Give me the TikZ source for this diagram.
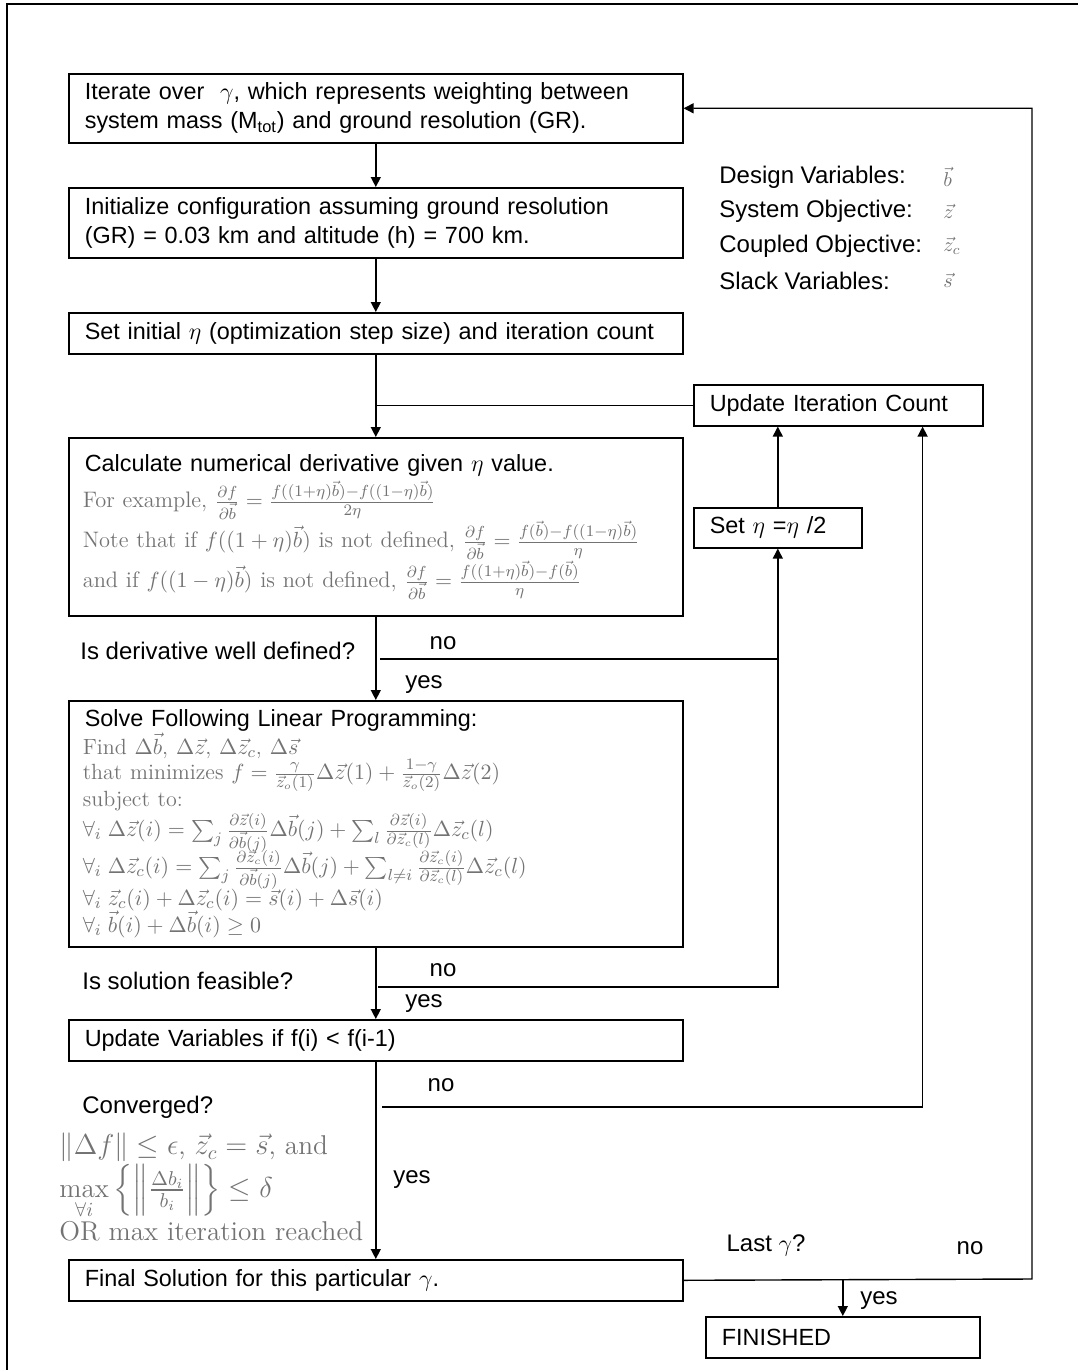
\documentclass[tikz,border=0pt]{standalone}
\usepackage{amsmath}
\usepackage{fontspec}
\setsansfont{Liberation Sans}
\usetikzlibrary{arrows.meta,positioning,calc}

\begin{document}
\begin{tikzpicture}[x=0.5pt,y=-0.5pt,
  arr/.style={-{Triangle[length=5pt,width=5pt]},line width=0.7pt},
  box/.style={draw,line width=0.8pt,anchor=north west,minimum width=307pt,text width=293pt,
    inner xsep=7pt,align=left,font=\sffamily\fontsize{11.7}{14.5}\selectfont},
  lbl/.style={font=\sffamily\fontsize{12}{13}\selectfont,inner sep=0pt},
  eqn/.style={color=black!55,font=\rmfamily}]
\useasboundingbox (0,0) rectangle (1078,1370);
\draw[line width=1pt] (7,1370) -- (7,4) -- (1078,4);

% main column
\node[box,minimum height=34.5pt] (iter) at (68,73)
  {\hspace*{1pt}Iterate over \ $\gamma$, which represents weighting between\\ \hspace*{1pt}system mass (M\textsubscript{tot}) and ground resolution (GR).};
\node[box,minimum height=35pt] (init) at (68,187)
  {\hspace*{1pt}Initialize configuration assuming ground resolution\\ \hspace*{1pt}(GR) = 0.03 km and altitude (h) = 700 km.};
\node[box,minimum height=20.5pt] (seteta) at (68,312)
  {\hspace*{1pt}Set initial $\eta$ (optimization step size) and iteration count};
\node[box,minimum height=89pt] (calc) at (68,437)
  {\hspace*{1pt}Calculate numerical derivative given $\eta$ value.\\[-1pt]
  {\rmfamily\color{black!55}\fontsize{11.2}{19}\selectfont
  For example, $\frac{\partial f}{\partial\vec b}=\frac{f((1+\eta)\vec b)-f((1-\eta)\vec b)}{2\eta}$\\
  Note that if $f((1+\eta)\vec b)$ is not defined, $\frac{\partial f}{\partial\vec b}=\frac{f(\vec b)-f((1-\eta)\vec b)}{\eta}$\\
  and if $f((1-\eta)\vec b)$ is not defined, $\frac{\partial f}{\partial\vec b}=\frac{f((1+\eta)\vec b)-f(\vec b)}{\eta}$}\\[6pt]};
\node[box,minimum height=123pt] (lp) at (68,700)
  {\lineskiplimit=-20pt\lineskip=0pt
  \hspace*{1pt}Solve Following Linear Programming:\\[1.5pt]
  {\rmfamily\color{black!55}\fontsize{11}{12.5}\selectfont
  Find $\Delta\vec b$, $\Delta\vec z$, $\Delta\vec z_c$, $\Delta\vec s$\\
  that minimizes $f=\frac{\gamma}{\vec z_o(1)}\Delta\vec z(1)+\frac{1-\gamma}{\vec z_o(2)}\Delta\vec z(2)$\\[1pt]
  subject to:\\[2.5pt]
  $\forall_i\;\Delta\vec z(i)=\sum_j\frac{\partial\vec z(i)}{\partial\vec b(j)}\Delta\vec b(j)+\sum_l\frac{\partial\vec z(i)}{\partial\vec z_c(l)}\Delta\vec z_c(l)$\\[6pt]
  $\forall_i\;\Delta\vec z_c(i)=\sum_j\frac{\partial\vec z_c(i)}{\partial\vec b(j)}\Delta\vec b(j)+\sum_{l\neq i}\frac{\partial\vec z_c(i)}{\partial\vec z_c(l)}\Delta\vec z_c(l)$\\[3.5pt]
  $\forall_i\;\vec z_c(i)+\Delta\vec z_c(i)=\vec s(i)+\Delta\vec s(i)$\\[1pt]
  $\forall_i\;\vec b(i)+\Delta\vec b(i)\geq0$\par}\vspace*{1pt}};
\node[box,minimum height=20.5pt] (upd) at (68,1019) {\hspace*{1pt}Update Variables if f(i) < f(i-1)};
\node[box,minimum height=20.5pt] (fin) at (68,1259) {\hspace*{1pt}Final Solution for this particular $\gamma$.};

% right column
\node[box,minimum width=144.5pt,text width=130.5pt,minimum height=20.5pt] (uic) at (693,384) {\hspace*{1pt}Update Iteration Count};
\node[box,minimum width=84pt,text width=70pt,minimum height=20pt] (seth) at (693,507) {\hspace*{1pt}Set $\eta$ =$\eta$ /2};
\node[box,minimum width=137pt,text width=123pt,minimum height=20.5pt] (done) at (705,1316) {\hspace*{1pt}FINISHED};

% legend
\foreach \i/\t/\v in {0/Design Variables:/\vec b,1/System Objective:/\vec z,2/Coupled Objective:/\vec z_c,3/Slack Variables:/\vec s}
  {\node[lbl,anchor=west] (lg\i) at (719,177+34.5*\i) {\t};
   \node[eqn,anchor=west,inner sep=0pt] (lv\i) at (943,177+34.5*\i) {$\v$};}

% questions and labels
\node[lbl,anchor=west] (q1) at (80,651) {Is derivative well defined?};
\node[lbl,anchor=west] (q2) at (82,981) {Is solution feasible?};
\node[lbl,anchor=west] (q3) at (82,1107) {Converged?};
\node[eqn,anchor=west,align=left,inner sep=0pt,font=\rmfamily\fontsize{13.6}{18.5}\selectfont] (conv) at (59,1187)
  {$\|\Delta f\|\leq\epsilon$, $\vec z_c=\vec s$, and\\
   $\max\limits_{\forall i}\left\{\left\|\frac{\Delta b_i}{b_i}\right\|\right\}\leq\delta$\\
   OR max iteration reached};
\node[lbl] (no1) at (443,643) {no};
\node[lbl] (yes1) at (424,685) {yes};
\node[lbl] (no2) at (443,970) {no};
\node[lbl] (yes2) at (424,1004) {yes};
\node[lbl] (no3) at (441,1085) {no};
\node[lbl] (yes3) at (412,1180) {yes};
\node[lbl] (lastg) at (766,1245) {Last $\gamma$?};
\node[lbl] (no4) at (970,1248) {no};
\node[lbl] (yes4) at (879,1301) {yes};

% connectors
\coordinate (n1) at (380,659);
\coordinate (n2) at (378,987);
\coordinate (n3) at (382,1107);
\coordinate (rt) at (1032,1279);
\draw[arr] (iter) -- (init);
\draw[arr] (init) -- (seteta);
\draw[arr] (seteta) -- (calc);
\draw[line width=0.7pt] (uic.west) -- (uic.west -| seteta.south);
\draw[arr] (calc) -- (lp);
\draw[arr] (n1) -| (seth.south);
\draw[arr] (seth) -- (seth.north |- uic.south);
\draw[arr] (lp) -- (upd);
\draw[line width=0.7pt] (n2) -| (n1 -| seth.south);
\draw[arr] (upd) -- (fin);
\draw[arr] (n3) -| ([xshift=-30.5pt]uic.south east);
\draw[arr] (fin.east) -- (rt) |- (iter.east);
\draw[arr] (fin.east -| done.north) -- (done);
\end{tikzpicture}
\end{document}
